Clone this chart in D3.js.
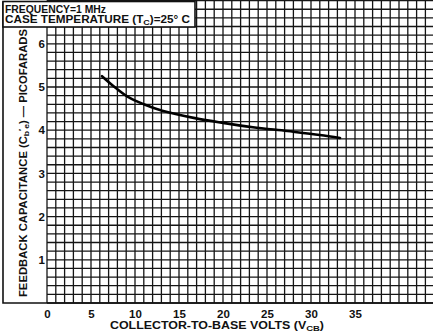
<!DOCTYPE html>
<html>
<head>
<meta charset="utf-8">
<script src="https://cdn.jsdelivr.net/npm/d3@7"></script>
<style>
  body { margin: 0; background: #fff; }
  text { font-family: "Liberation Sans", Arial, sans-serif; font-weight: bold; fill: #111; }
</style>
</head>
<body>
<svg id="chart" width="433" height="334"></svg>
<script>
// values
var volts = [6.25, 7.5, 9.2, 11, 13.1, 16.8, 20.0, 23.4, 27.3, 31.0, 33.3];
var picofarads = [5.25, 5.03, 4.77, 4.60, 4.45, 4.28, 4.17, 4.07, 3.98, 3.89, 3.82];
var xTicks = [0, 5, 10, 15, 20, 25, 30, 35];
var yTicks = [1, 2, 3, 4, 5, 6];

var svg = d3.select('#chart');
var W = +svg.attr('width');

// one grid cell = 1 volt across, 0.2 pF down
var x = d3.scaleLinear().domain([0, 44]).range([47, 47 + 44 * 8.8]);
var y = d3.scaleLinear().domain([0, 7]).range([303, 0.6]);

svg.append('rect').attr('width', W).attr('height', 334).attr('fill', '#fff');

var gridG = svg.append('g').attr('stroke', '#151515').attr('stroke-width', 1.3);
d3.range(0, 45).forEach(function(v) {
    gridG.append('line')
        .attr('x1', x(v)).attr('x2', x(v))
        .attr('y1', y(7)).attr('y2', y(0));
});
d3.range(0, 36).forEach(function(j) {
    gridG.append('line')
        .attr('x1', x(0)).attr('x2', W)
        .attr('y1', y(j / 5)).attr('y2', y(j / 5));
});

// outer frame (left + bottom run past the grid)
svg.append('path')
    .attr('d', 'M3,1.5 V' + y(0) + ' H' + W)
    .attr('fill', 'none').attr('stroke', '#111').attr('stroke-width', 1.6);

// title box in top-left corner
svg.append('rect')
    .attr('x', 3).attr('y', 1.5).attr('width', 192).attr('height', 25.5)
    .attr('fill', '#fff').attr('stroke', '#111').attr('stroke-width', 1.6);

svg.append('text').attr('x', 5).attr('y', 12.5)
    .style('font-size', '10.5px')
    .attr('textLength', 101).attr('lengthAdjust', 'spacingAndGlyphs')
    .text('FREQUENCY=1 MHz');
var t2 = svg.append('text').attr('x', 5).attr('y', 23)
    .style('font-size', '10.5px')
    .attr('textLength', 185).attr('lengthAdjust', 'spacingAndGlyphs');
t2.append('tspan').text('CASE TEMPERATURE (T');
t2.append('tspan').attr('dy', 2).style('font-size', '8px').text('C');
t2.append('tspan').attr('dy', -2).text(')=25° C');

// curve
var line = d3.line()
    .x(function(d, i) { return x(volts[i]); })
    .y(function(d) { return y(d); })
    .curve(d3.curveCatmullRom);
svg.append('path')
    .datum(picofarads)
    .attr('d', line)
    .attr('fill', 'none')
    .attr('stroke', '#000')
    .attr('stroke-width', 2.6)
    .attr('stroke-linecap', 'round');

// axes
var xAxis = svg.append('g')
    .attr('transform', 'translate(0,' + y(0) + ')')
    .call(d3.axisBottom(x).tickValues(xTicks).tickSize(0).tickPadding(7));
xAxis.select('.domain').remove();
xAxis.selectAll('text').style('font-size', '11.5px').attr('fill', '#111');

var yAxis = svg.append('g')
    .attr('transform', 'translate(' + x(0) + ',0)')
    .call(d3.axisLeft(y).tickValues(yTicks).tickFormat(d3.format('d')).tickSize(0).tickPadding(2));
yAxis.select('.domain').remove();
yAxis.selectAll('text').style('font-size', '11.5px').attr('fill', '#111');

// axis titles
var xt = svg.append('text')
    .attr('x', 217).attr('y', 329)
    .attr('text-anchor', 'middle')
    .style('font-size', '10.5px')
    .attr('textLength', 214).attr('lengthAdjust', 'spacingAndGlyphs');
xt.append('tspan').text('COLLECTOR-TO-BASE VOLTS (V');
xt.append('tspan').attr('dy', 2).style('font-size', '8px').text('CB');
xt.append('tspan').attr('dy', -2).text(')');

var yt = svg.append('text')
    .attr('transform', 'translate(27,163) rotate(-90)')
    .attr('text-anchor', 'middle')
    .style('font-size', '10.5px')
    .attr('textLength', 268).attr('lengthAdjust', 'spacingAndGlyphs');
yt.append('tspan').text('FEEDBACK  CAPACITANCE  (C');
yt.append('tspan').attr('dy', 2).style('font-size', '8px').text('b');
yt.append('tspan').attr('dy', -5).style('font-size', '8px').text('\u2032');
yt.append('tspan').attr('dy', 5).style('font-size', '8px').text('e');
yt.append('tspan').attr('dy', -2).text(') \u2014 PICOFARADS');
</script>
</body>
</html>
